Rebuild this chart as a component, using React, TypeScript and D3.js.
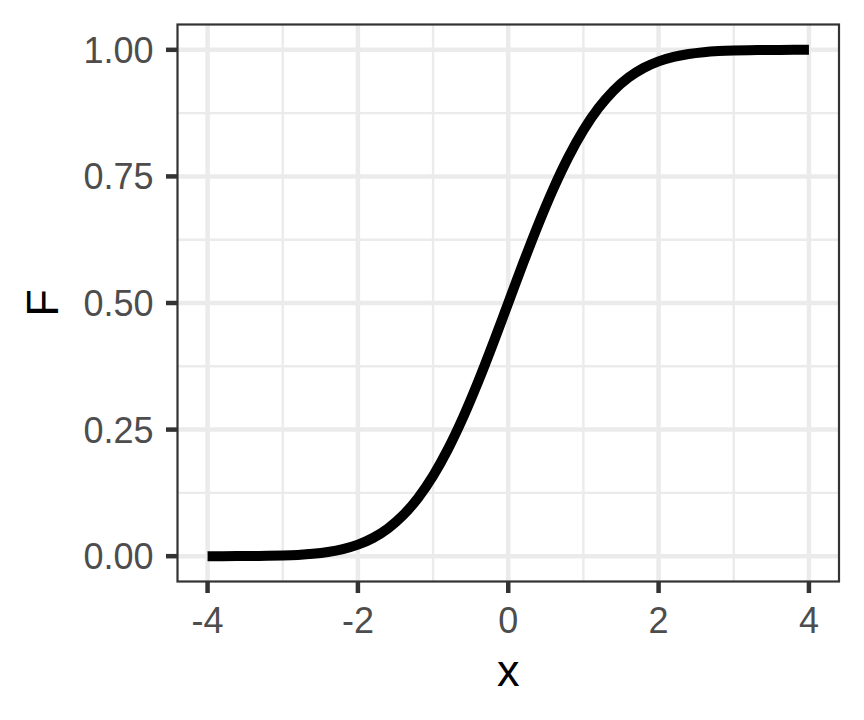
import React from "react";
import * as d3 from "d3";

const xValues = [-4, -3.8, -3.6, -3.4, -3.2, -3, -2.8, -2.6, -2.4, -2.2, -2, -1.8, -1.6, -1.4, -1.2, -1, -0.8, -0.6, -0.4, -0.2, 0, 0.2, 0.4, 0.6, 0.8, 1, 1.2, 1.4, 1.6, 1.8, 2, 2.2, 2.4, 2.6, 2.8, 3, 3.2, 3.4, 3.6, 3.8, 4];
const fValues = [0.00003, 0.00007, 0.00016, 0.00034, 0.00069, 0.00135, 0.00256, 0.00466, 0.0082, 0.0139, 0.02275, 0.03593, 0.0548, 0.08076, 0.11507, 0.15866, 0.21186, 0.27425, 0.34458, 0.42074, 0.5, 0.57926, 0.65542, 0.72575, 0.78814, 0.84134, 0.88493, 0.91924, 0.9452, 0.96407, 0.97725, 0.9861, 0.9918, 0.99534, 0.99744, 0.99865, 0.99931, 0.99966, 0.99984, 0.99993, 0.99997];
const xMajor = [-4, -2, 0, 2, 4];
const xMinor = [-3, -1, 1, 3];
const yMajor = [0, 0.25, 0.5, 0.75, 1];
const yMinor = [0.125, 0.375, 0.625, 0.875];
const yLabels = ["0.00", "0.25", "0.50", "0.75", "1.00"];

export default function App() {
  const W = 864, H = 720;
  const left = 177.5, right = 839, top = 24.5, bottom = 581.5;
  const x = d3.scaleLinear().domain([-4.4, 4.4]).range([left, right]);
  const y = d3.scaleLinear().domain([-0.05, 1.05]).range([bottom, top]);
  const pts = xValues.map((v, i) => [v, fValues[i]] as [number, number]);
  const line = d3.line<[number, number]>().x(d => x(d[0])).y(d => y(d[1])).curve(d3.curveMonotoneX);
  const font = "'Liberation Sans', Arial, sans-serif";
  const grid = "#EBEBEB";
  return (
    <div style={{ position: "absolute", left: 0, top: 0 }}>
      <svg width={W} height={H} style={{ display: "block", background: "#fff" }}>
        <rect x={0} y={0} width={W} height={H} fill="#fff" />
        <rect x={left} y={top} width={right - left} height={bottom - top} fill="#fff" />
        {xMinor.map(v => <line key={"xm" + v} x1={x(v)} x2={x(v)} y1={top} y2={bottom} stroke={grid} strokeWidth={2.4} />)}
        {yMinor.map(v => <line key={"ym" + v} x1={left} x2={right} y1={y(v)} y2={y(v)} stroke={grid} strokeWidth={2.4} />)}
        {xMajor.map(v => <line key={"xM" + v} x1={x(v)} x2={x(v)} y1={top} y2={bottom} stroke={grid} strokeWidth={4.5} />)}
        {yMajor.map(v => <line key={"yM" + v} x1={left} x2={right} y1={y(v)} y2={y(v)} stroke={grid} strokeWidth={4.5} />)}
        <path d={line(pts) || ""} fill="none" stroke="#000" strokeWidth={10} strokeLinecap="butt" strokeLinejoin="round" />
        <rect x={left} y={top} width={right - left} height={bottom - top} fill="none" stroke="#333333" strokeWidth={2.2} />
        {xMajor.map(v => (
          <g key={"xt" + v}>
            <line x1={x(v)} x2={x(v)} y1={bottom} y2={bottom + 11.5} stroke="#333333" strokeWidth={4.5} />
            <text x={x(v)} y={bottom + 51} textAnchor="middle" fontFamily={font} fontSize={36} fill="#4D4D4D">{String(v)}</text>
          </g>
        ))}
        {yMajor.map((v, i) => (
          <g key={"yt" + v}>
            <line x1={left - 11.5} x2={left} y1={y(v)} y2={y(v)} stroke="#333333" strokeWidth={4.5} />
            <text x={left - 24} y={y(v) + 13} textAnchor="end" fontFamily={font} fontSize={36} fill="#4D4D4D">{yLabels[i]}</text>
          </g>
        ))}
        <text x={(left + right) / 2} y={686} textAnchor="middle" fontFamily={font} fontSize={45} fill="#000">x</text>
        <text transform={`translate(58,${(top + bottom) / 2}) rotate(-90)`} textAnchor="middle" fontFamily={font} fontSize={45} fill="#000">F</text>
      </svg>
    </div>
  );
}
